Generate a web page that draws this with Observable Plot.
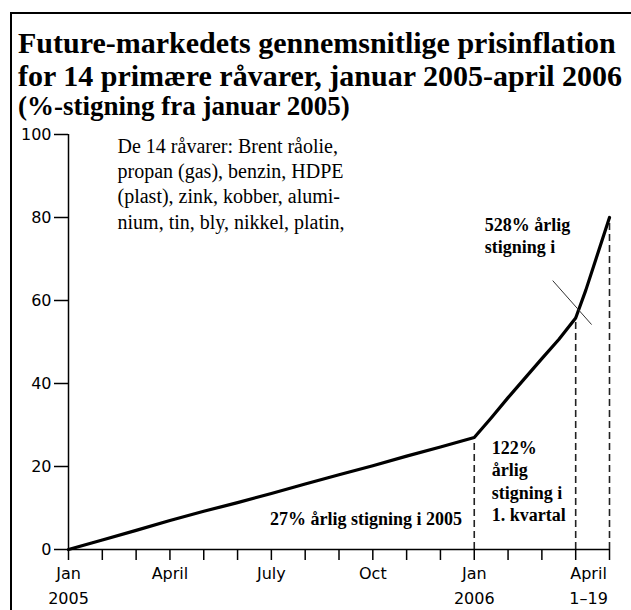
<!DOCTYPE html>
<html><head><meta charset="utf-8">
<script src="https://cdn.jsdelivr.net/npm/d3@7"></script>
<script src="https://cdn.jsdelivr.net/npm/@observablehq/plot@0.6"></script>
<style>
body{margin:0;background:#fff;}
#wrap{position:relative;width:631px;height:610px;overflow:hidden;background:#fff;}
#frame{position:absolute;left:10px;top:12px;width:625px;height:610px;border-top:2px solid #000;border-left:2px solid #000;}
.t{position:absolute;left:18px;font-family:"Liberation Serif","Times New Roman",serif;font-weight:bold;color:#000;white-space:nowrap;line-height:1;}
#chart{position:absolute;left:0;top:120px;}
</style></head><body>
<div id="wrap">
<div id="frame"></div>
<div class="t" id="t1" style="top:28px;font-size:30px">Future-markedets gennemsnitlige prisinflation</div>
<div class="t" id="t2" style="top:61px;font-size:30px">for 14 primære råvarer, januar 2005-april 2006</div>
<div class="t" id="t3" style="top:93px;font-size:27px">(%-stigning fra januar 2005)</div>
<div id="chart"></div>
</div>
<script>
// month index: 0 = Jan 2005, 12 = Jan 2006, 15 = April 1 2006, 16 = April 19 2006
const monthIdx = [0,1,2,3,4,5,6,7,8,9,10,11,12,12.5,13,13.5,14,14.5,15,15.3,15.6,16];
const pct      = [0,2.3,4.6,7,9.2,11.3,13.5,15.8,18,20.2,22.5,24.7,27,31.7,36.6,41.3,46,50.6,55.8,62.5,70,80];

const yTicks = [0,20,40,60,80,100];
const xTickMonths = [0,1,2,3,4,5,6,7,8,9,10,11,12,13,14,15,16];
const xLabelPos = [0,3,6,9,12,15.38];
const xLabelText = ["Jan\n2005","April","July","Oct","Jan\n2006","April\n1–19"];

const dashX = [12,15,16];
const dashTop = [27,56,80];

const crossX = [14.32,15.47];
const crossY = [64.8,54.2];

const noteText = ["De 14 råvarer: Brent råolie,\npropan (gas), benzin, HDPE\n(plast), zink, kobber, alumi-\nnium, tin, bly, nikkel, platin,"];
const noteX = [1.45];
const noteY = [100];

const note2005 = ["27% årlig stigning i 2005"];
const note2005X = [8.8];
const note2005Y = [7.2];

const noteQText = ["122%\nårlig\nstigning i\n1. kvartal","528% årlig\nstigning i"];
const noteQX = [12.52,12.31];
const noteQY = [26.9,80.6];

const series = monthIdx.map((m,i)=>({m, v:pct[i]}));
const dashes = dashX.map((x,i)=>({x, top:dashTop[i]}));
const cross = [{x1:crossX[0],y1:crossY[0],x2:crossX[1],y2:crossY[1]}];
const xLabels = xLabelPos.map((x,i)=>({x, t:xLabelText[i]}));
const notes = noteText.map((t,i)=>({t, x:noteX[i], y:noteY[i]}));
const notesA = note2005.map((t,i)=>({t, x:note2005X[i], y:note2005Y[i]}));
const notesQ = noteQText.map((t,i)=>({t, x:noteQX[i], y:noteQY[i]}));

const serif = "Liberation Serif, Times New Roman, serif";

const chart = Plot.plot({
  width:631, height:490,
  marginTop:14, marginBottom:61, marginLeft:68, marginRight:22,
  x:{domain:[0,16]},
  y:{domain:[0,100]},
  style:{fontFamily:"DejaVu Sans", fontSize:"16px", color:"#000", background:"transparent", overflow:"visible"},
  marks:[
    Plot.ruleX(dashes, {x:"x", y1:0, y2:"top", stroke:"#222", strokeWidth:1.6, strokeDasharray:"7,4"}),
    Plot.axisY({ticks:yTicks, tickSize:14, tickPadding:3, tickFormat:d=>String(d), label:null, strokeWidth:1.5, fontSize:16}),
    Plot.axisX({ticks:xTickMonths, tickSize:11, tickFormat:()=>"", label:null, strokeWidth:1.5}),
    Plot.ruleX([0], {y1:0, y2:100, strokeWidth:1.5}),
    Plot.ruleY([0], {x1:0, x2:16, strokeWidth:1.5}),
    Plot.line(series, {x:"m", y:"v", strokeWidth:3.2, stroke:"#000"}),
    Plot.link(cross, {x1:"x1", y1:"y1", x2:"x2", y2:"y2", stroke:"#333", strokeWidth:1}),
    Plot.text(xLabels, {x:"x", y:0, text:"t", dy:12, lineAnchor:"top", lineHeight:1.55, fontSize:16, fill:"#000"}),
    Plot.text(notes, {x:"x", y:"y", text:"t", textAnchor:"start", lineAnchor:"top", lineHeight:1.27, fontSize:20, fontFamily:serif, fill:"#000"}),
    Plot.text(notesA, {x:"x", y:"y", text:"t", textAnchor:"middle", lineAnchor:"middle", fontSize:18, fontWeight:"bold", fontFamily:serif, fill:"#000"}),
    Plot.text(notesQ, {x:"x", y:"y", text:"t", textAnchor:"start", lineAnchor:"top", lineHeight:1.25, fontSize:18, fontWeight:"bold", fontFamily:serif, fill:"#000"})
  ]
});
document.getElementById("chart").appendChild(chart);
</script>
</body></html>
